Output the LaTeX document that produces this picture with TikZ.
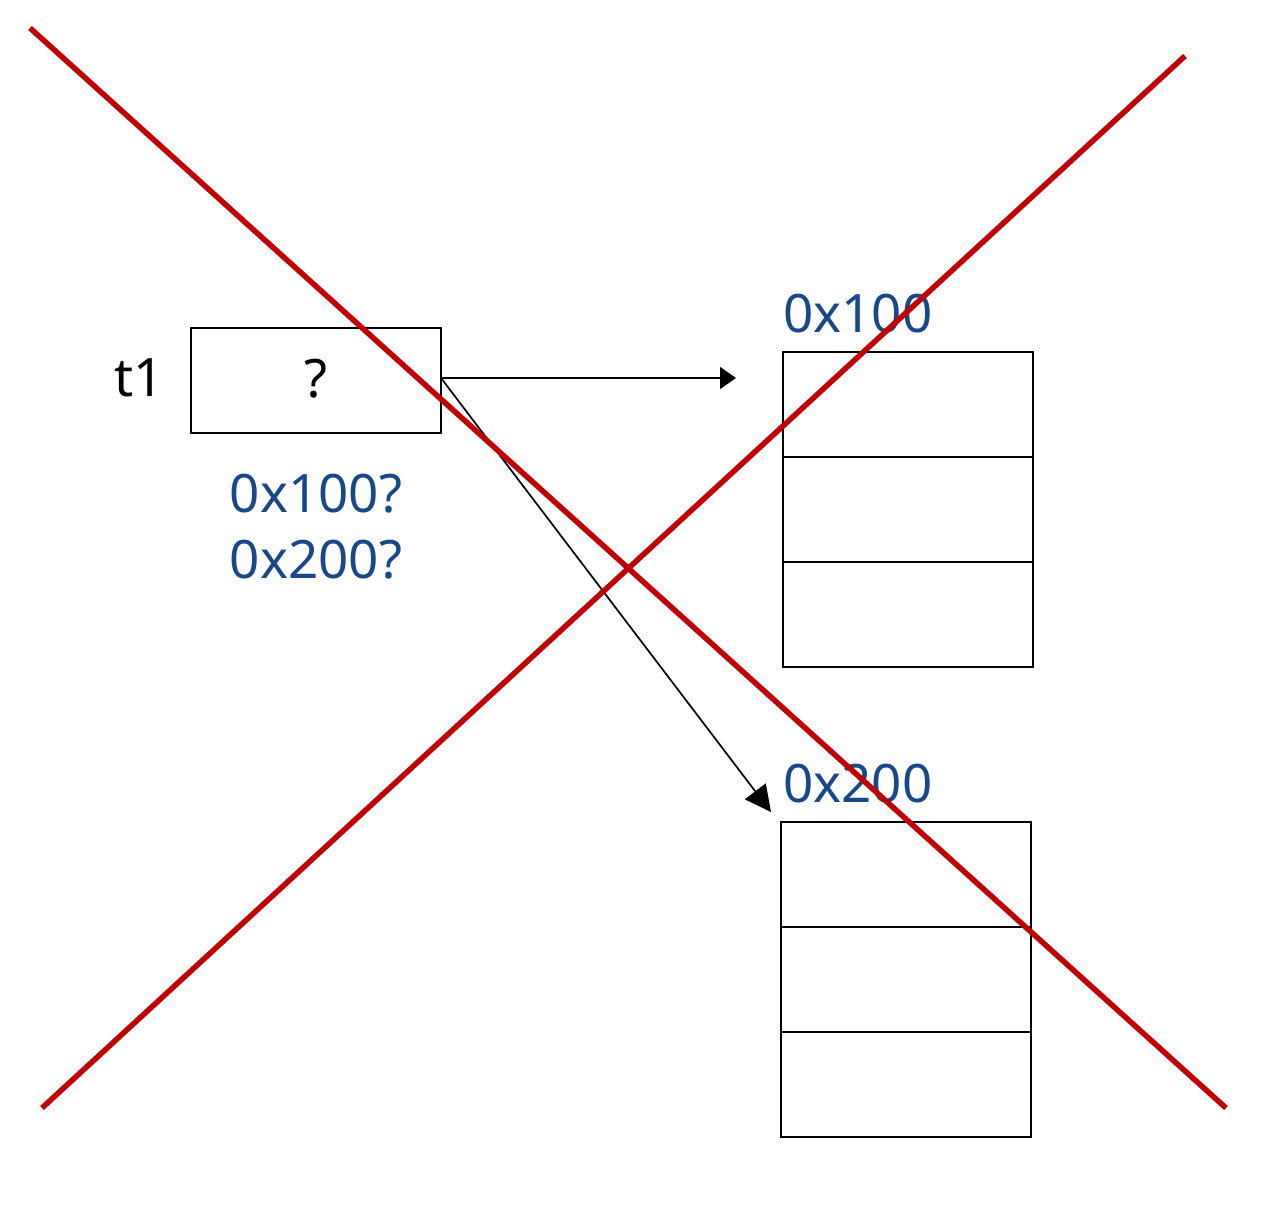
\documentclass[tikz,border=0pt]{standalone}
\usepackage{fontspec}
\setmainfont{Noto Sans}
\usetikzlibrary{arrows.meta}
\definecolor{addr}{RGB}{24,72,136}
\definecolor{cross}{RGB}{192,0,0}
\tikzset{
  cell/.style={draw=black, line width=2pt, minimum width=250pt, minimum height=105pt, inner sep=0pt, outer sep=0pt},
  lbl/.style={inner sep=0pt, anchor=base west, font=\fontsize{53}{63}\selectfont},
  conn/.style={line width=1.7pt, draw=black},
  xline/.style={line width=5.5pt, draw=cross}
}
\begin{document}
\begin{tikzpicture}[x=1pt,y=-1pt]
\useasboundingbox (0,0) rectangle (1280,1216);
% t1 box
\node[cell] (box) at (316,380.5) {};
\node[lbl, anchor=base] (q) at (316,397) {?};
\node[lbl] (t1) at (114,396) {t1};
\node[lbl, anchor=base, text=addr] (g1) at (316,512) {0x100?};
\node[lbl, anchor=base, text=addr] (g2) at (316,578) {0x200?};
% stack 1
\node[cell] (a1) at (908,404.5) {};
\node[cell] (a2) at (908,509.5) {};
\node[cell] (a3) at (908,614.5) {};
\node[lbl, text=addr] (la) at (783,332) {0x100};
% stack 2
\node[cell] (b1) at (906,874.5) {};
\node[cell] (b2) at (906,979.5) {};
\node[cell] (b3) at (906,1084.5) {};
\node[lbl, text=addr] (lb) at (783,802) {0x200};
% arrows
\coordinate (s) at (441,378);
\coordinate (e1) at (736,378);
\coordinate (e2) at (771,812);
\draw[conn, -{Triangle[length=16pt,width=22pt]}] (s) -- (e1);
\draw[conn, -{Triangle[length=26pt,width=26pt]}] (s) -- (e2);
% cross
\coordinate (c1) at (30,28);
\coordinate (c2) at (1226,1108);
\coordinate (c3) at (42,1108);
\coordinate (c4) at (1185,56);
\draw[xline] (c1) -- (c2);
\draw[xline] (c3) -- (c4);
\end{tikzpicture}
\end{document}
